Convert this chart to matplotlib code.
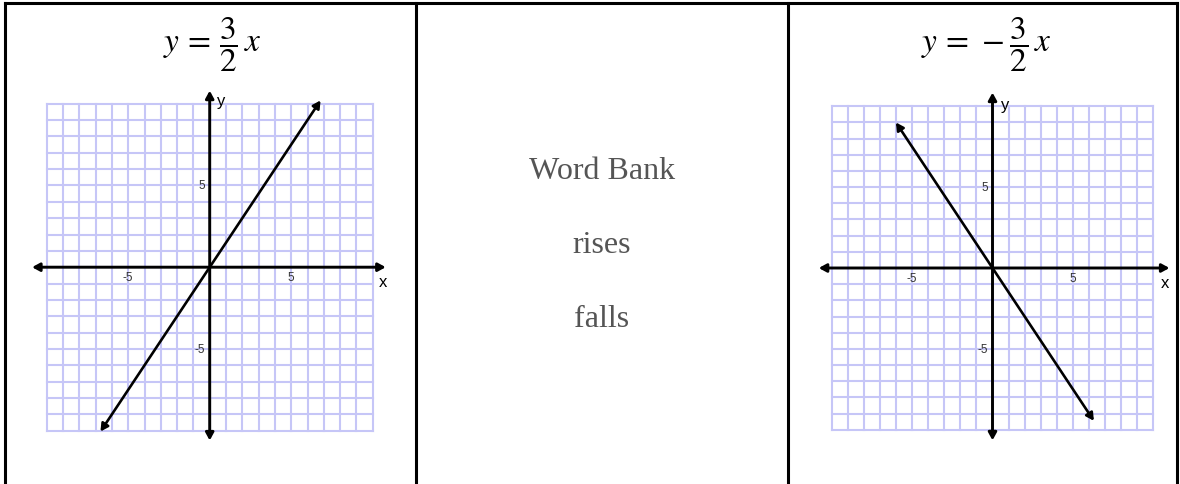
import matplotlib
matplotlib.use("Agg")
import matplotlib.pyplot as plt
import numpy as np
from matplotlib.patches import FancyArrowPatch

plt.rcParams['mathtext.fontset'] = 'stix'

W, H = 1180, 485

# ---- data ----
titles = [r"$y\,=\,\dfrac{3}{2}\,x$", r"$y\,=\,-\dfrac{3}{2}\,x$"]
grid_range = [-10, 10]
tick_values = [-5, 5]
tick_labels = ["-5", "5"]
line1_x = [-6.7, 6.8]
line1_y = [-10.05, 10.2]
line2_x = [-6.0, 6.3]
line2_y = [9.0, -9.45]
word_bank = ["Word Bank", "rises", "falls"]

fig = plt.figure(figsize=(W / 100, H / 100), dpi=100)

# background axes in pixel coordinates (y downwards)
bg = fig.add_axes([0, 0, 1, 1])
bg.set_xlim(0, W)
bg.set_ylim(H, 0)
bg.axis('off')

# table borders
bw = 2.2
bg.plot([5, 1177], [4, 4], color='black', lw=bw, solid_capstyle='projecting')
for xv in [5, 416, 787.5, 1177]:
    bg.plot([xv, xv], [4, H + 5], color='black', lw=bw, solid_capstyle='projecting')

# titles
bg.text(212, 45, titles[0], fontsize=24, ha='center', va='center')
bg.text(986, 45, titles[1], fontsize=24, ha='center', va='center')

# word bank
wb_y = [179.3, 253.3, 326.7]
for t, yy in zip(word_bank, wb_y):
    bg.text(602, yy, t, fontsize=23, family='Liberation Serif', color='#555555',
            ha='center', va='baseline')


def make_graph(cx, cy, pxu_x, pxu_y, lx, ly, xax, yax, ylab_pos, xlab_pos):
    lim = 11.6
    w = 2 * lim * pxu_x
    h = 2 * lim * pxu_y
    ax = fig.add_axes([(cx - w / 2) / W, (H - (cy + h / 2)) / H, w / W, h / H])
    ax.set_xlim(-lim, lim)
    ax.set_ylim(-lim, lim)
    ax.axis('off')
    g = np.arange(grid_range[0], grid_range[1] + 1)
    for v in g:
        ax.plot([v, v], grid_range, color='#c6c6f7', lw=1.5, zorder=1)
        ax.plot(grid_range, [v, v], color='#c6c6f7', lw=1.5, zorder=1)

    def arrow(p0, p1, lw=2.1):
        a = FancyArrowPatch(p0, p1, arrowstyle='<|-|>,head_length=0.55,head_width=0.3',
                            mutation_scale=8, color='black', lw=lw,
                            shrinkA=0, shrinkB=0, zorder=3)
        ax.add_patch(a)

    arrow((xax[0], 0), (xax[1], 0))
    arrow((0, yax[0]), (0, yax[1]))
    arrow((lx[0], ly[0]), (lx[1], ly[1]), lw=1.9)

    for v, lab in zip(tick_values, tick_labels):
        ax.text(v, -0.6, lab, fontsize=8.5, color='#333333', ha='center', va='center',
                family='Liberation Sans', zorder=4)
        ax.text(-0.3, v, lab, fontsize=8.5, color='#333333', ha='right', va='center',
                family='Liberation Sans', zorder=4)
    ax.text(ylab_pos[0], ylab_pos[1], 'y', fontsize=12, ha='center', va='center',
            family='Liberation Sans', zorder=4)
    ax.text(xlab_pos[0], xlab_pos[1], 'x', fontsize=12, ha='center', va='center',
            family='Liberation Sans', zorder=4)
    return ax


make_graph(209.7, 268.2, 16.3, 16.35, line1_x, line1_y,
           (-10.9, 10.8), (-10.6, 10.8), (0.72, 10.2), (10.66, -0.85))
make_graph(992.5, 269.0, 16.09, 16.17, line2_x, line2_y,
           (-10.8, 11.0), (-10.66, 10.85), (0.8, 10.1), (10.7, -0.9))

fig.savefig('out.png', dpi=100)
